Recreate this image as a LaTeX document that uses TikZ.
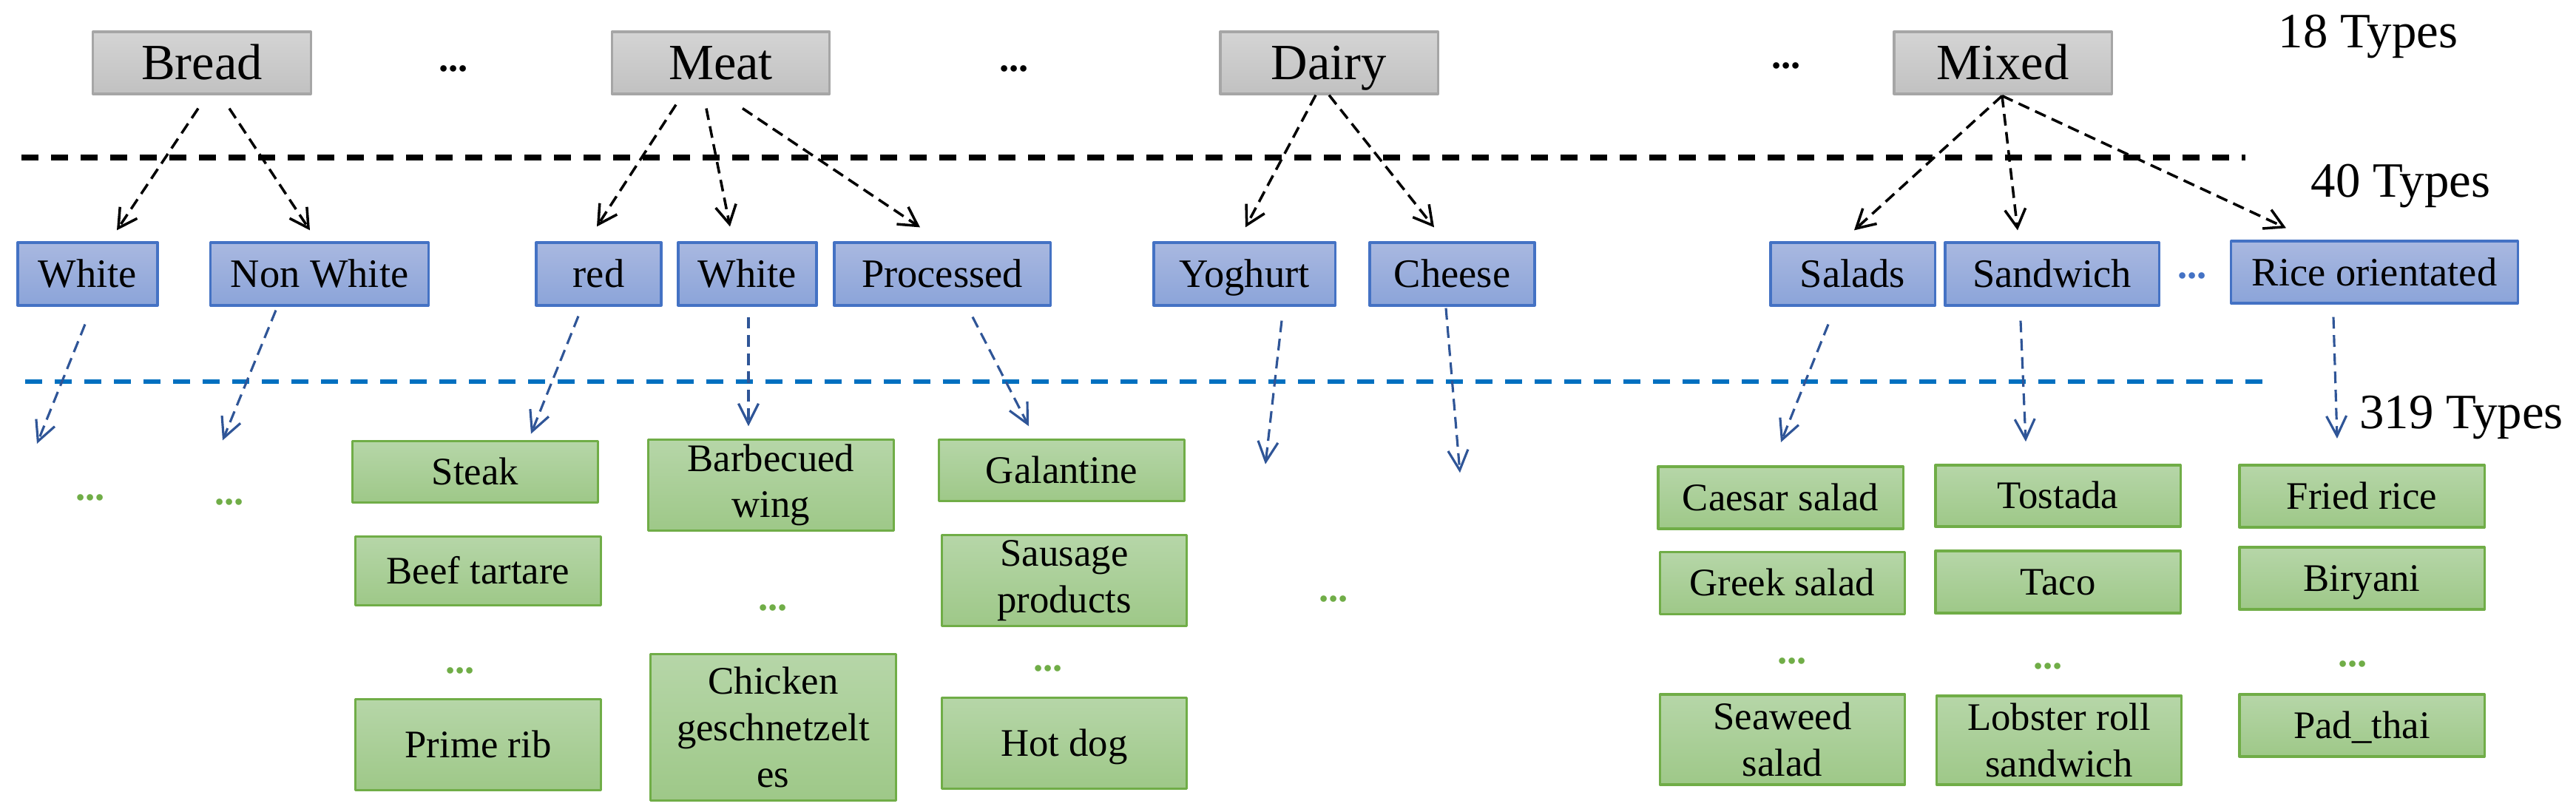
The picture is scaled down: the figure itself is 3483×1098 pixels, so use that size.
\documentclass[tikz,border=0pt]{standalone}
\usepackage{fontspec}
\setmainfont{Liberation Serif}
\usetikzlibrary{arrows.meta}

\definecolor{graytop}{HTML}{D4D4D4}
\definecolor{graybot}{HTML}{C1C1C1}
\definecolor{grayline}{HTML}{A6A6A6}
\definecolor{bluetop}{HTML}{A9B8E0}
\definecolor{bluebot}{HTML}{8BA4D9}
\definecolor{blueline}{HTML}{4472C4}
\definecolor{greentop}{HTML}{B6D6A8}
\definecolor{greenbot}{HTML}{9EC888}
\definecolor{greenline}{HTML}{70AD47}
\definecolor{arrowblue}{HTML}{2F5597}
\definecolor{sepblue}{HTML}{0070C0}

\begin{document}
\begin{tikzpicture}[
            x = 0.01cm, y = -0.01cm, % one unit = one pixel, y downwards
            > = {Straight Barb[length=0.25cm, width=0.28cm]}, % arrow head style
            line join = round
        ]

        \tikzstyle{every node}=[inner sep=0pt, align=center]
        \tikzstyle{cat}=[
            draw = grayline, line width = 0.9pt,
            top color = graytop, bottom color = graybot,
            minimum width = 2.94cm, minimum height = 0.84cm,
            font = \fontsize{19.5}{20}\selectfont,
            text height = 12.9pt, text depth = 0pt
        ]
        \tikzstyle{sub}=[
            draw = blueline, line width = 0.9pt,
            top color = bluetop, bottom color = bluebot,
            minimum height = 0.85cm,
            font = \fontsize{15.5}{16}\selectfont,
            text height = 10.3pt, text depth = 0pt
        ]
        \tikzstyle{dish}=[
            draw = greenline, line width = 0.9pt,
            top color = greentop, bottom color = greenbot,
            minimum width = 3.31cm,
            font = \fontsize{15}{17.8}\selectfont
        ]
        \tikzstyle{oneline}=[text height = 9.9pt, text depth = 0pt]
        \tikzstyle{dots}=[font = \fontsize{15}{15}\selectfont\bfseries, text = greenline]
        \tikzstyle{level}=[anchor = base, font = \fontsize{19}{19}\selectfont]
        \tikzstyle{blk}=[->, black, line width = 1pt, dash pattern = on 4.5pt off 2.5pt]
        \tikzstyle{blu}=[-{Straight Barb[length=0.27cm, width=0.27cm]}, arrowblue,
            line width = 0.9pt, dash pattern = on 4.5pt off 2.5pt]

        \useasboundingbox (0,0) rectangle (3483,1098);

        % separators
        \draw[line width = 2pt, dash pattern = on 0.23cm off 0.17cm] (29,213) -- (3036,213);
        \draw[sepblue, line width = 1.5pt, dash pattern = on 0.23cm off 0.17cm] (34,516) -- (3070,516);

        \node[level] (t18) at (3202,65) {18 Types};
        \node[level] (t40) at (3246,267) {40 Types};
        \node[level] (t319) at (3328,580) {319 Types};

	% 18 types
	\node[cat] (bread) at (273,85) {Bread};
	\node[cat] (meat) at (974.5,85) {Meat};
	\node[cat] (dairy) at (1797,85) {Dairy};
	\node[cat] (mixed) at (2708,85) {Mixed};
	\node[dots, text = black] (d1) at (613,93) {...};
	\node[dots, text = black] (d2) at (1371,93) {...};
	\node[dots, text = black] (d3) at (2415,89) {...};

	% 40 types
	\node[sub, minimum width = 1.89cm] (white) at (118.5,370.5) {White};
	\node[sub, minimum width = 2.94cm] (nonwhite) at (432,370.5) {Non White};
	\node[sub, minimum width = 1.69cm] (red) at (809.5,370.5) {red};
	\node[sub, minimum width = 1.87cm] (whitemeat) at (1010.5,370.5) {White};
	\node[sub, minimum width = 2.92cm] (processed) at (1274,370.5) {Processed};
	\node[sub, minimum width = 2.45cm] (yoghurt) at (1682.5,370.5) {Yoghurt};
	\node[sub, minimum width = 2.23cm] (cheese) at (1963.5,370.5) {Cheese};
	\node[sub, minimum width = 2.22cm] (salads) at (2505,370.5) {Salads};
	\node[sub, minimum width = 2.89cm] (sandwich) at (2774.5,370.5) {Sandwich};
	\node[sub, minimum width = 3.87cm, minimum height = 0.84cm] (rice) at (3210.5,368) {Rice orientated};
	\node[dots, text = blueline] (d4) at (2964,373) {...};

	% 319 types
	\node[dish, oneline, minimum height = 0.83cm] (steak) at (642.5,638) {Steak};
	\node[dish, oneline, minimum height = 0.93cm] (tartare) at (646.5,772) {Beef tartare};
	\node[dish, oneline, minimum height = 1.23cm] (primerib) at (646.5,1007) {Prime rib};
	\node[dish, minimum height = 1.23cm] (wing) at (1042.5,656) {Barbecued\\wing};
	\node[dish, minimum height = 1.98cm] (chicken) at (1045.5,983.5) {Chicken\\geschnetzelt\\es};
	\node[dish, oneline, minimum height = 0.83cm] (galantine) at (1435.5,636) {Galantine};
	\node[dish, minimum height = 1.23cm] (sausage) at (1439,785) {Sausage\\products};
	\node[dish, oneline, minimum height = 1.235cm] (hotdog) at (1439,1005) {Hot dog};
	\node[dish, oneline, minimum height = 0.84cm] (caesar) at (2407.5,673) {Caesar salad};
	\node[dish, oneline, minimum height = 0.84cm] (greek) at (2410,788.5) {Greek salad};
	\node[dish, minimum height = 1.22cm] (seaweed) at (2410,1000) {Seaweed\\salad};
	\node[dish, oneline, minimum height = 0.83cm] (tostada) at (2782.5,670.5) {Tostada};
	\node[dish, oneline, minimum height = 0.84cm] (taco) at (2782.5,787) {Taco};
	\node[dish, minimum height = 1.2cm] (lobster) at (2784,1001) {Lobster roll\\sandwich};
	\node[dish, oneline, minimum height = 0.84cm] (friedrice) at (3193.5,671) {Fried rice};
	\node[dish, oneline, minimum height = 0.84cm] (biryani) at (3193.5,782) {Biryani};
	\node[dish, oneline, minimum height = 0.84cm] (padthai) at (3193.5,981) {Pad\_thai};

	\node[dots] (g1) at (122,673) {...};
	\node[dots] (g2) at (310,679) {...};
	\node[dots] (g3) at (622,907) {...};
	\node[dots] (g4) at (1045,822) {...};
	\node[dots] (g5) at (1417,904) {...};
	\node[dots] (g6) at (1803,809.5) {...};
	\node[dots] (g7) at (2423,894) {...};
	\node[dots] (g8) at (2769,900.5) {...};
	\node[dots] (g9) at (3181,898) {...};

	\coordinate (e1) at (50,600);
	\coordinate (e2) at (301,595.5);
	\coordinate (e6) at (1711,627.7);
	\coordinate (e7) at (1974,639.3);

        \draw[blk] ([shift={(-5,18)}]bread.south) -- ([shift={(39.5,-15)}]white.north);
        \draw[blk] ([shift={(37,18)}]bread.south) -- ([shift={(-13,-15)}]nonwhite.north);
        \draw[blk] ([shift={(-60.5,13)}]meat.south) -- ([shift={(-2.5,-20)}]red.north);
        \draw[blk] ([shift={(-19.5,18)}]meat.south) -- ([shift={(-23.5,-20)}]whitemeat.north);
        \draw[blk] ([shift={(29.5,18)}]meat.south) -- ([shift={(-30,-19)}]processed.north);
        \draw[blk] ([shift={(-18,0)}]dairy.south) -- ([shift={(1.5,-19)}]yoghurt.north);
        \draw[blk] (dairy.south) -- ([shift={(-24.5,-19)}]cheese.north);
        \draw[blk] ([shift={(-1,1)}]mixed.south) -- ([shift={(2,-15)}]salads.north);
        \draw[blk] ([shift={(-1,1)}]mixed.south) -- ([shift={(-46.5,-15)}]sandwich.north);
        \draw[blk] ([shift={(-1,1)}]mixed.south) -- ([shift={(-119.5,-16)}]rice.north);

        \draw[blu] ([shift={(-3.5,24)}]white.south) -- (e1);
        \draw[blu] ([shift={(-59,5)}]nonwhite.south) -- (e2);
        \draw[blu] ([shift={(-27.5,13)}]red.south) -- ([shift={(75.5,-8.3)}]steak.north);
        \draw[blu] ([shift={(1.5,14)}]whitemeat.south) -- ([shift={(-30.5,-16.6)}]wing.north);
        \draw[blu] ([shift={(41,14)}]processed.south) -- ([shift={(-44.5,-16.6)}]galantine.north);
        \draw[blu] ([shift={(50.5,19)}]yoghurt.south) -- (e6);
        \draw[blu] ([shift={(-8.5,2)}]cheese.south) -- (e7);
        \draw[blu] ([shift={(-33,24)}]salads.south) -- ([shift={(0.5,-31.4)}]caesar.north);
        \draw[blu] ([shift={(-42.5,19)}]sandwich.south) -- ([shift={(-43.5,-30.2)}]tostada.north);
        \draw[blu] ([shift={(-55.5,17)}]rice.south) -- ([shift={(-33.5,-34.4)}]friedrice.north);

    \end{tikzpicture}
\end{document}
